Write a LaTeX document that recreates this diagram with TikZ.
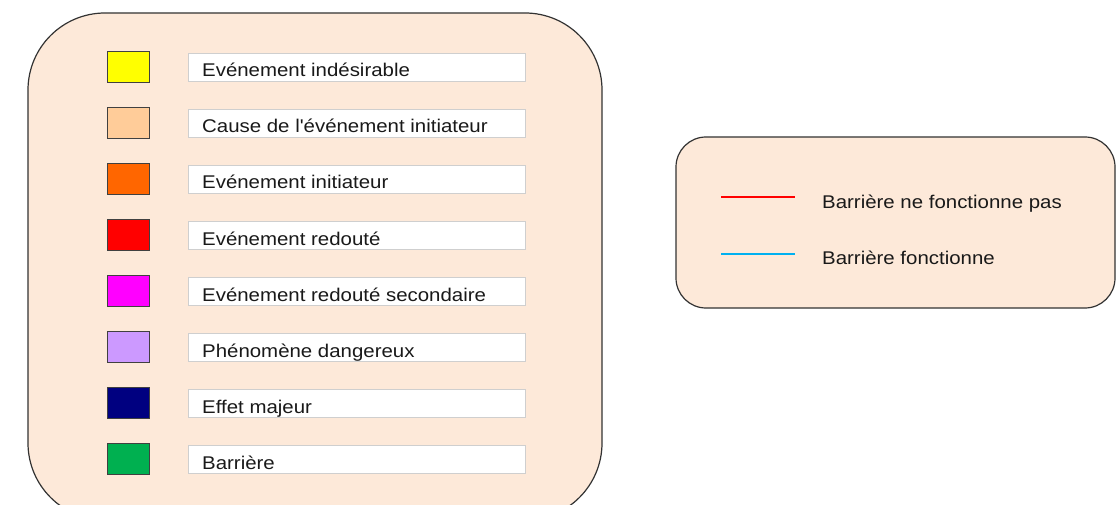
\documentclass[tikz,border=0pt]{standalone}
\usepackage{fontspec}
\setmainfont{Liberation Sans}[FakeStretch=1.11,Ligatures=TeXOff]
\definecolor{panelbg}{HTML}{FDE9D9}
\definecolor{boxgray}{HTML}{CFCFCF}
\definecolor{cyel}{HTML}{FFFF00}
\definecolor{ccause}{HTML}{FFCC99}
\definecolor{cinit}{HTML}{FF6600}
\definecolor{cred}{HTML}{FF0000}
\definecolor{cmag}{HTML}{FF00FF}
\definecolor{cpur}{HTML}{CC99FF}
\definecolor{cnavy}{HTML}{000080}
\definecolor{cgreen}{HTML}{00B050}
\definecolor{cblue}{HTML}{00B0F0}
\begin{document}
\begin{tikzpicture}[x=1pt,y=-1pt,
  panel/.style={draw=black!80,line width=1.2pt,fill=panelbg},
  swatch/.style={draw=black!75,line width=1pt,minimum width=42pt,minimum height=31pt,inner sep=0pt,anchor=north west},
  labelbox/.style={draw=boxgray,line width=1.4pt,fill=white,minimum width=337pt,minimum height=28pt,inner sep=0pt,anchor=north west},
  labeltxt/.style={anchor=base west,inner sep=0pt,font=\fontsize{18.4}{20}\selectfont,text=black!90},
  legline/.style={line width=2pt}]
\useasboundingbox (0,0) rectangle (1116,505);
\fill[white] (0,0) rectangle (1116,505);
% left panel
\draw[panel,rounded corners=77pt] (28,13) rectangle (602,520);
% right panel
\draw[panel,rounded corners=30pt] (676,137) rectangle (1115,308);
% rows
\foreach \c/\t [count=\i from 0] in {cyel/{Evénement indésirable},ccause/{Cause de l'événement initiateur},cinit/{Evénement initiateur},cred/{Evénement redouté},cmag/{Evénement redouté secondaire},cpur/{Phénomène dangereux},cnavy/{Effet majeur},cgreen/{Barrière}}{
  \node[swatch,fill=\c] (sw\i) at (107,51+56*\i) {};
  \node[labelbox] (lb\i) at (188,53+56*\i) {};
  \node[labeltxt] (lt\i) at (202,77+56*\i) {\t};
}
% right legend
\coordinate (r1a) at (721,197.5);
\coordinate (r1b) at (795,197.5);
\coordinate (r2a) at (721,253.5);
\coordinate (r2b) at (795,253.5);
\draw[legline,draw=cred] (r1a) -- (r1b);
\draw[legline,draw=cblue] (r2a) -- (r2b);
\node[labeltxt] (t1) at (822,208) {Barrière ne fonctionne pas};
\node[labeltxt] (t2) at (822,264) {Barrière fonctionne};
\end{tikzpicture}
\end{document}
